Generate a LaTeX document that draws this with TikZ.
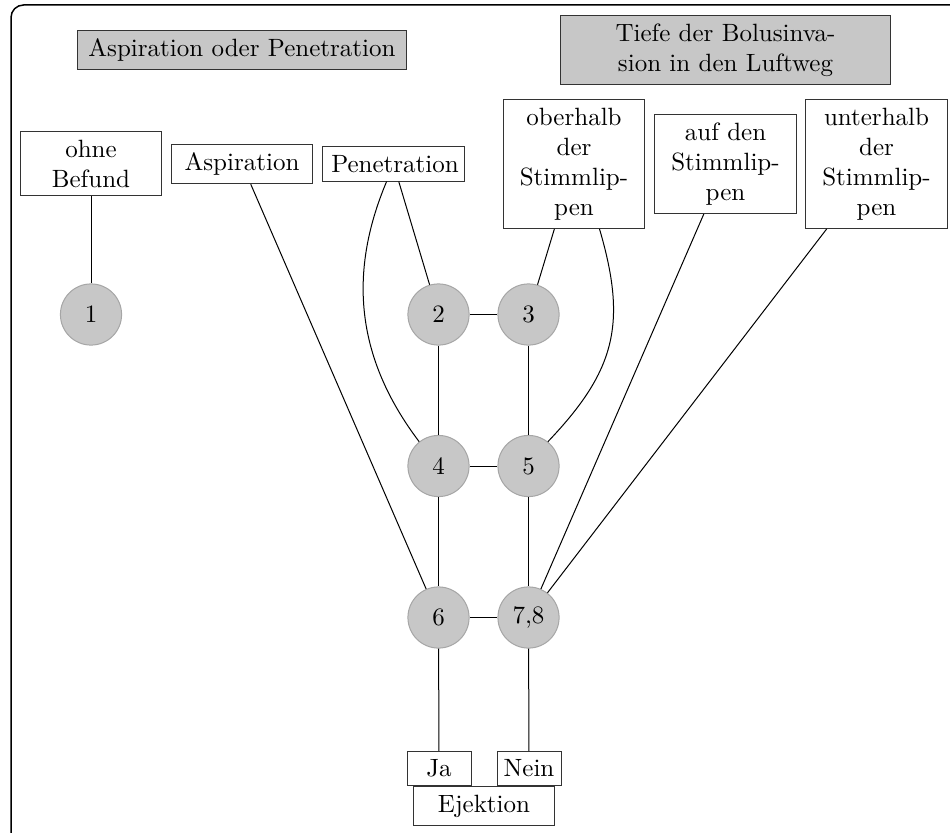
\documentclass[tikz,border=0pt]{standalone}
\usepackage{tikz}
\usetikzlibrary{calc}

\begin{document}
\begin{tikzpicture}[x=0.4pt, y=-0.4pt,
		kopf/.style={draw=black!80, fill=black!22, text width=4.4cm, align=center},
		feld/.style={draw=black!80, fill=white, text width=1.75cm, align=center},
		wahl/.style={draw=black!80, minimum width=0.9cm, inner xsep=2.5pt},
		stufe/.style={circle, draw=black!35, fill=black!22, minimum size=0.86cm, inner sep=0pt}]
		%%%%% START %%%%%
		
		\useasboundingbox (0, 0) rectangle (950, 832);
		\draw[semithick, rounded corners=5pt] (11, 5) rectangle (975, 850);
		
		\node[kopf] (aop) at (242, 50) {Aspiration oder Penetration};
		\node[kopf] (tiefe) at (725.5, 50) {Tiefe der Bolusinva-\\sion in den Luftweg};
		
		\node[feld] (ohne) at (91, 163.5) {ohne\\Befund};
		\node[feld] (asp) at (242, 164) {Aspiration};
		\node[feld] (pen) at (393.5, 164) {Penetration};
		\node[feld] (ober) at (574, 164) {oberhalb\\der\\Stimmlip-\\pen};
		\node[feld] (auf) at (725.5, 164) {auf den\\Stimmlip-\\pen};
		\node[feld] (unter) at (876.5, 164) {unterhalb\\der\\Stimmlip-\\pen};
		
		\node[stufe] (s1) at (91, 314.5) {1};
		\node[stufe] (s2) at (438.5, 314.5) {2};
		\node[stufe] (s3) at (528.5, 314.5) {3};
		\node[stufe] (s4) at (438.5, 466) {4};
		\node[stufe] (s5) at (528.5, 466) {5};
		\node[stufe] (s6) at (438.5, 617.5) {6};
		\node[stufe] (s78) at (528.5, 617.5) {7,8};
		
		\node[wahl] (ja) at (439, 768.5) {Ja};
		\node[wahl] (nein) at (529, 768.5) {Nein};
		\node[feld] (ejek) at (484, 806) {Ejektion};
		
		\draw (ohne) -- (s1);
		\draw (asp) -- (s6);
		\draw (pen) -- (s2);
		\draw (pen) to[bend right=30] (s4);
		\draw (ober) -- (s3);
		\draw (ober) to[bend left=30, looseness=1.15] (s5);
		\draw (auf) -- (s78);
		\draw (unter) -- (s78);
		
		\draw (s2) -- (s3);
		\draw (s2) -- (s4);
		\draw (s3) -- (s5);
		\draw (s4) -- (s5);
		\draw (s4) -- (s6);
		\draw (s5) -- (s78);
		\draw (s6) -- (s78);
		
		\draw (s6) -- (ja);
		\draw (s78) -- (nein);
		
		%%%%% END %%%%%
	\end{tikzpicture}
\end{document}
